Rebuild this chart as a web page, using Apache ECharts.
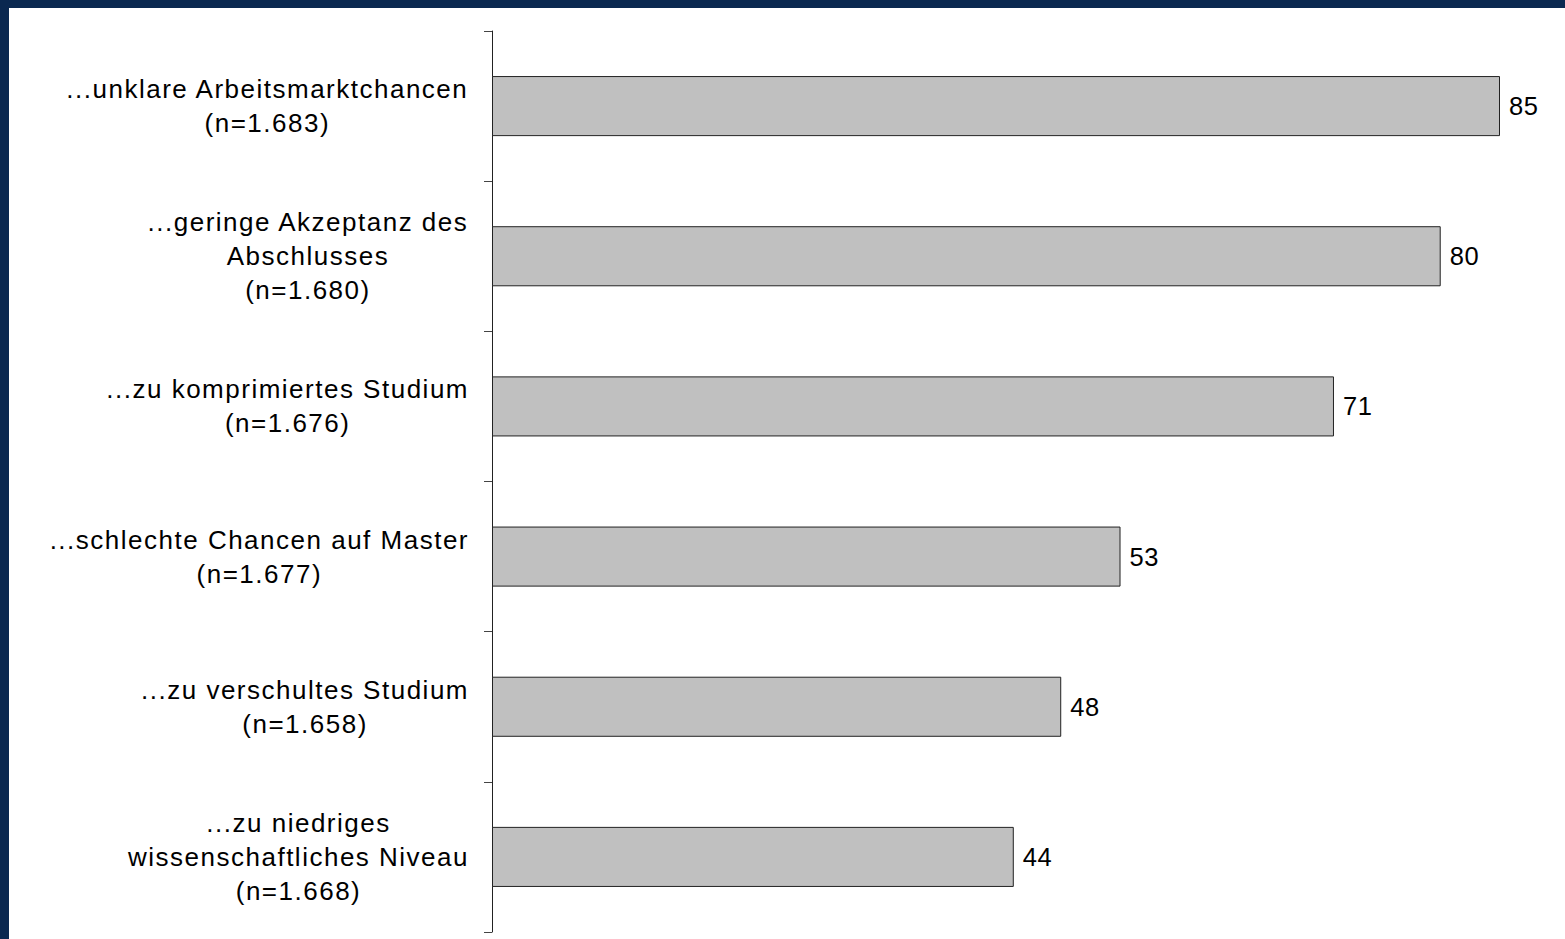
<!DOCTYPE html>
<html>
<head>
<meta charset="utf-8">
<script src="https://cdn.jsdelivr.net/npm/echarts@6/dist/echarts.min.js"></script>
<style>
html,body{margin:0;padding:0;background:#fff;}
#chart{width:1565px;height:939px;}
#chart svg text[style*="26px"]{letter-spacing:1.5px;}
#chart svg text[style*="25.5px"]{letter-spacing:0.5px;}
</style>
</head>
<body>
<div id="chart"></div>
<script>
const categories = [
  "...unklare Arbeitsmarktchancen\n(n=1.683)",
  "...geringe Akzeptanz des\nAbschlusses\n(n=1.680)",
  "...zu komprimiertes Studium\n(n=1.676)",
  "...schlechte Chancen auf Master\n(n=1.677)",
  "...zu verschultes Studium\n(n=1.658)",
  "...zu niedriges\nwissenschaftliches Niveau\n(n=1.668)"
];
const values = [85, 80, 71, 53, 48, 44];

// account for the CSS letter-spacing in text measurement
const mctx = document.createElement('canvas').getContext('2d');
if (echarts.setPlatformAPI) {
  echarts.setPlatformAPI({
    measureText: function (text, font) {
      mctx.font = font || '12px sans-serif';
      const w = mctx.measureText(text).width;
      let extra = 0;
      if (/(^|[^.\d])26px/.test(font || '')) extra = 1.5 * text.length;
      else if (/25\.5px/.test(font || '')) extra = 0.5 * text.length;
      return {width: w + extra};
    }
  });
}

const chart = echarts.init(document.getElementById('chart'), null, {renderer: 'svg'});
const font = '"Liberation Sans", Arial, sans-serif';
chart.setOption({
  backgroundColor: '#ffffff',
  animation: false,
  graphic: [
    {type: 'rect', left: 0, top: 0, shape: {width: 1565, height: 8}, style: {fill: '#0a2850'}, silent: true},
    {type: 'rect', left: 0, top: 0, shape: {width: 9, height: 939}, style: {fill: '#0a2850'}, silent: true}
  ],
  grid: {left: 492, right: 65, top: 31, bottom: 7, containLabel: false},
  xAxis: {
    type: 'value', min: 0, max: 85, show: false
  },
  yAxis: {
    type: 'category',
    data: categories,
    inverse: true,
    boundaryGap: true,
    axisLine: {show: true, lineStyle: {color: '#222', width: 1}},
    axisTick: {show: true, length: 8, lineStyle: {color: '#444'}},
    axisLabel: {
      margin: 23,
      formatter: function (v) {
        return v.split('\n').map(l => '{c|' + l + '}').join('\n');
      },
      rich: {
        c: {align: 'center', fontSize: 26, lineHeight: 34, color: '#000', fontFamily: font}
      }
    }
  },
  series: [{
    type: 'bar',
    data: values,
    barWidth: '40%',
    itemStyle: {color: '#c0c0c0', borderColor: '#222', borderWidth: 1},
    label: {show: true, position: 'right', distance: 9, color: '#000', fontSize: 25.5, fontFamily: font}
  }]
});
</script>
</body>
</html>
